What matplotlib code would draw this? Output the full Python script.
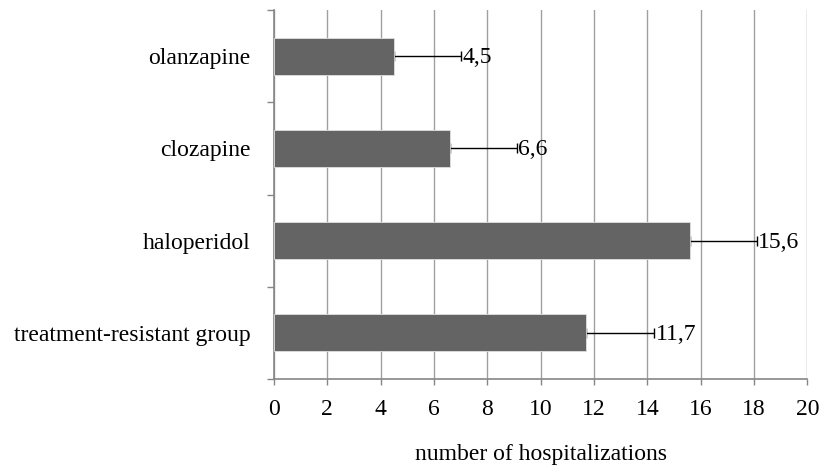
import matplotlib

matplotlib.use("Agg")
import matplotlib.pyplot as plt
import numpy as np

# data, bottom to top
categories = ["treatment-resistant group", "haloperidol", "clozapine", "olanzapine"]
values = [11.7, 15.6, 6.6, 4.5]
errors = [2.55, 2.5, 2.5, 2.5]
x_ticks = [0, 2, 4, 6, 8, 10, 12, 14, 16, 18, 20]

plt.rcParams["font.family"] = ["Liberation Serif", "DejaVu Serif"]
FS = 17

fig = plt.figure(figsize=(8.22, 4.70), dpi=100)
ax = fig.add_axes([0.3333, 0.1936, 0.6490, 0.7851])

y = np.arange(len(categories))
ax.barh(y, values, height=0.4, color="#646464", edgecolor="#e0e0e0",
        linewidth=0.6, zorder=3)
ax.errorbar(values, y, xerr=[np.zeros(len(errors)), errors], fmt="none",
            ecolor="black", elinewidth=1.0, capsize=3.5, capthick=1.0, zorder=2)

for yi, v, e in zip(y, values, errors):
    ax.annotate(f"{v:.1f}".replace(".", ","), xy=(v + e, yi), xytext=(1, -1),
                textcoords="offset points", ha="left", va="center", fontsize=FS)

ax.set_xlim(0, 20)
ax.set_ylim(-0.5, len(categories) - 0.5)
ax.set_xticks(x_ticks)
ax.set_xticklabels([str(t) for t in x_ticks], fontsize=FS)
ax.set_yticks(y)
ax.set_yticklabels(categories, fontsize=FS)
ax.set_yticks(np.arange(-0.5, len(categories)), minor=True)

ax.tick_params(axis="y", which="major", length=0, pad=17)
ax.tick_params(axis="y", which="minor", length=5, width=1, color="#868686")
ax.tick_params(axis="x", length=4.5, width=1, color="#868686", pad=10)

ax.grid(axis="x", color="#a0a0a0", linewidth=1, zorder=0)
ax.set_axisbelow(True)

for side in ("top", "right"):
    ax.spines[side].set_visible(False)
for side in ("left", "bottom"):
    ax.spines[side].set_color("#868686")
    ax.spines[side].set_linewidth(1.2)

ax.set_xlabel("number of hospitalizations", fontsize=FS, labelpad=17)

fig.savefig("out.png", dpi=100)
